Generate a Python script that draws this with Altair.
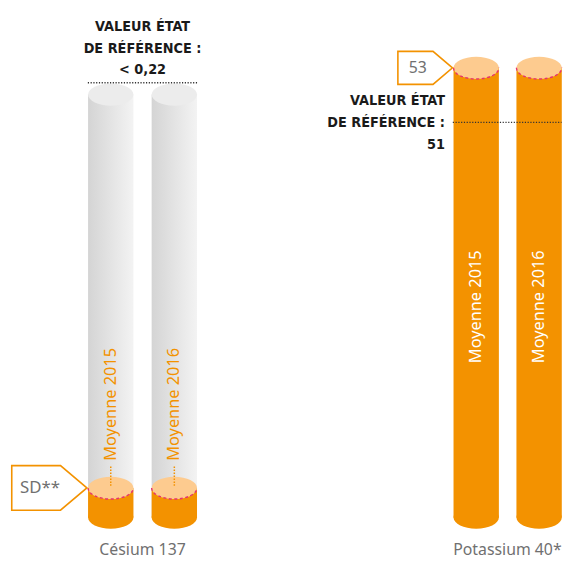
import altair as alt
import pandas as pd

# ---------------- data ----------------
YEARS = ["Moyenne 2015", "Moyenne 2016"]
ELEMENTS = ["Césium 137", "Potassium 40*"]

CES_TOP = [0.214, 0.214]      # top of grey cylinders
CES_SD = [0.015, 0.015]       # SD** level (orange part)
CES_REF = 0.22
CES_REF_TEXT = "< 0,22"

POT_MEAN = [53, 53]
POT_REF = 51
POT_BASE = 36.5               # drawn base of the (truncated) potassium cylinders

REF_LINES = ["VALEUR ÉTAT", "DE RÉFÉRENCE :"]
SD_TEXT = "SD**"

# ---------------- styles / layout ----------------
ORANGE = "#F39200"
LIGHT = "#FDCB8F"
PINK = "#E6336F"
GREYTXT = "#707070"
DARK = "#1a1a1a"
GREYTOP = "#ECECEC"
COND = "Liberation Sans Narrow, DejaVu Sans Condensed, sans-serif"
SANS = "Noto Sans, Open Sans, sans-serif"

SX = 557 / 565     # compression so the page fits the window
SY = 0.98
W1, W2 = 268, 289
H = 553


def ry(v):
    return (v - 8) * SY


def rx(v):
    return (v - 8) * SX


CYL_W = 46.5 * SX
RY = 11.5 * SY
hw = CYL_W / 2
ELLIPSE = f"M{-hw},0 A{hw},{RY} 0 1,1 {hw},0 A{hw},{RY} 0 1,1 {-hw},0 Z"
FRONT_ARC = f"M{-hw},0 A{hw},{RY} 0 0,0 {hw},0"
a = 23 * SY
SD_BOX = f"M0,0 L{-27*SX},{-a} L{-77*SX},{-a} L{-77*SX},{a} L{-27*SX},{a} Z"
b = 17 * SY
POT_BOX = f"M0,0 L{-20*SX},{-b} L{-56*SX},{-b} L{-56*SX},{b} L{-20*SX},{b} Z"

grad_grey = alt.Gradient(
    gradient="linear",
    stops=[alt.GradientStop(color="#d4d4d4", offset=0),
           alt.GradientStop(color="#f3f3f3", offset=1)],
    x1=0, x2=1, y1=0, y2=0,
)


def ell(fill):
    return dict(shape=ELLIPSE, size=4, filled=True, fill=fill, opacity=1, strokeWidth=0)


def ref_text(chart, X, Y, labels, offsets, align, xoff):
    layers = []
    for lab, off in zip(labels, offsets):
        layers.append(
            chart.mark_text(align=align, baseline="middle", fontSize=14.5, fontWeight="bold",
                            font=COND, color=DARK, xOffset=xoff * SX, yOffset=off * SY, text=lab)
            .encode(x=X, y=Y)
        )
    return layers


# ---------------- panel 1 : Césium ----------------
ces = pd.DataFrame({"year": YEARS, "top": CES_TOP, "sd": CES_SD, "base": [0.0, 0.0]})
ces_info = pd.DataFrame({
    "first": [YEARS[0]], "last": [YEARS[1]], "ref": [CES_REF], "sd": [CES_SD[0]],
    "callout": [SD_TEXT], "element": [ELEMENTS[0]], "base": [0.0],
})

xs1 = alt.Scale(type="point", domain=YEARS, range=[rx(110.3), rx(175.5)], padding=0)
ys1 = alt.Scale(domain=[0, CES_REF], range=[ry(530.5), ry(82)], zero=False, nice=False)
X1 = alt.X("year:N", scale=xs1, axis=None)
F1 = alt.X("first:N", scale=xs1, axis=None)


def Y1(f):
    return alt.Y(f, scale=ys1, axis=None)


c = alt.Chart(ces)
ci = alt.Chart(ces_info)
p1 = alt.layer(
    c.mark_bar(size=CYL_W, fill=grad_grey).encode(x=X1, y=Y1("top:Q"), y2="base:Q"),
    c.mark_point(**ell(GREYTOP)).encode(x=X1, y=Y1("top:Q")),
    c.mark_point(**ell(ORANGE)).encode(x=X1, y=Y1("base:Q")),
    c.mark_bar(size=CYL_W, fill=ORANGE).encode(x=X1, y=Y1("sd:Q"), y2="base:Q"),
    c.mark_point(**ell(LIGHT)).encode(x=X1, y=Y1("sd:Q")),
    c.mark_point(shape=FRONT_ARC, size=4, filled=False, stroke=PINK, strokeWidth=1.4,
                 strokeDash=[3, 2.5], opacity=1).encode(x=X1, y=Y1("sd:Q")),
    c.mark_rule(color=ORANGE, strokeDash=[1.5, 1.5], strokeWidth=1.5,
                yOffset=-22 * SY, y2Offset=-1 * SY)
     .encode(x=X1, y=Y1("sd:Q"), y2="sd:Q"),
    c.mark_text(angle=270, align="left", baseline="middle", color=ORANGE, fontSize=16.5,
                font=SANS, yOffset=-28 * SY).encode(x=X1, y=Y1("sd:Q"), text="year:N"),
    ci.mark_rule(color="#333333", strokeDash=[1.2, 1.6], strokeWidth=1.4,
                 xOffset=-23.5 * SX, x2Offset=24.5 * SX)
      .encode(x=F1, x2="last:N", y=Y1("ref:Q")),
    *ref_text(ci, F1, Y1("ref:Q"), REF_LINES + [CES_REF_TEXT], [-57, -35, -13], "center", 32.6),
    ci.mark_point(shape=SD_BOX, size=4, filled=True, fill="white", stroke=ORANGE, strokeWidth=1.6,
                  opacity=1, xOffset=-24.5 * SX).encode(x=F1, y=Y1("sd:Q")),
    ci.mark_text(align="center", baseline="middle", fontSize=17, font=SANS, color=GREYTXT,
                 xOffset=-72.5 * SX).encode(x=F1, y=Y1("sd:Q"), text="callout:N"),
    ci.mark_text(align="center", baseline="middle", fontSize=16, font=SANS, color=GREYTXT,
                 xOffset=32.6 * SX, yOffset=34 * SY).encode(x=F1, y=Y1("base:Q"), text="element:N"),
).properties(width=W1, height=H)

# ---------------- panel 2 : Potassium ----------------
pot = pd.DataFrame({"year": YEARS, "val": POT_MEAN, "base": [POT_BASE] * 2})
pot["mid"] = (pot["val"] + pot["base"]) / 2
pot_info = pd.DataFrame({
    "first": [YEARS[0]], "last": [YEARS[1]], "ref": [POT_REF], "val": [POT_MEAN[0]],
    "callout": [str(POT_MEAN[0])], "element": [ELEMENTS[1]], "base": [POT_BASE],
})

xs2 = alt.Scale(type="point", domain=YEARS, range=[rx(485) - W1, rx(549.5) - W1], padding=0)
ys2 = alt.Scale(domain=[POT_BASE, POT_MEAN[0]], range=[ry(530.5), ry(66.7)], zero=False, nice=False)
X2 = alt.X("year:N", scale=xs2, axis=None)
F2 = alt.X("first:N", scale=xs2, axis=None)


def Y2(f):
    return alt.Y(f, scale=ys2, axis=None)


d = alt.Chart(pot)
di = alt.Chart(pot_info)
p2 = alt.layer(
    d.mark_point(**ell(ORANGE)).encode(x=X2, y=Y2("base:Q")),
    d.mark_bar(size=CYL_W, fill=ORANGE).encode(x=X2, y=Y2("val:Q"), y2="base:Q"),
    d.mark_point(**ell(LIGHT)).encode(x=X2, y=Y2("val:Q")),
    d.mark_point(shape=FRONT_ARC, size=4, filled=False, stroke=PINK, strokeWidth=1.4,
                 strokeDash=[3, 2.5], opacity=1).encode(x=X2, y=Y2("val:Q")),
    di.mark_rule(color="#333333", strokeDash=[1.2, 1.6], strokeWidth=1.4,
                 xOffset=-24 * SX, x2Offset=23 * SX)
      .encode(x=F2, x2="last:N", y=Y2("ref:Q")),
    *ref_text(di, F2, Y2("ref:Q"), REF_LINES + [str(POT_REF)], [-21.5, 1, 23], "right", -32),
    di.mark_point(shape=POT_BOX, size=4, filled=True, fill="white", stroke=ORANGE, strokeWidth=1.6,
                  opacity=1, xOffset=-24.3 * SX).encode(x=F2, y=Y2("val:Q")),
    di.mark_text(align="center", baseline="middle", fontSize=16, font=SANS, color=GREYTXT,
                 xOffset=-60 * SX).encode(x=F2, y=Y2("val:Q"), text="callout:N"),
    d.mark_text(angle=270, align="center", baseline="middle", color="white", fontSize=16.5,
                font=SANS, yOffset=14.5 * SY).encode(x=X2, y=Y2("mid:Q"), text="year:N"),
    di.mark_text(align="center", baseline="middle", fontSize=16, font=SANS, color=GREYTXT,
                 xOffset=32 * SX, yOffset=34 * SY).encode(x=F2, y=Y2("base:Q"), text="element:N"),
).properties(width=W2, height=H)

chart = (
    alt.hconcat(p1, p2, spacing=0)
    .properties(padding=0, background="white")
    .configure_view(stroke=None)
)

chart.save("out.html", embed_options={"renderer": "svg", "actions": False})
